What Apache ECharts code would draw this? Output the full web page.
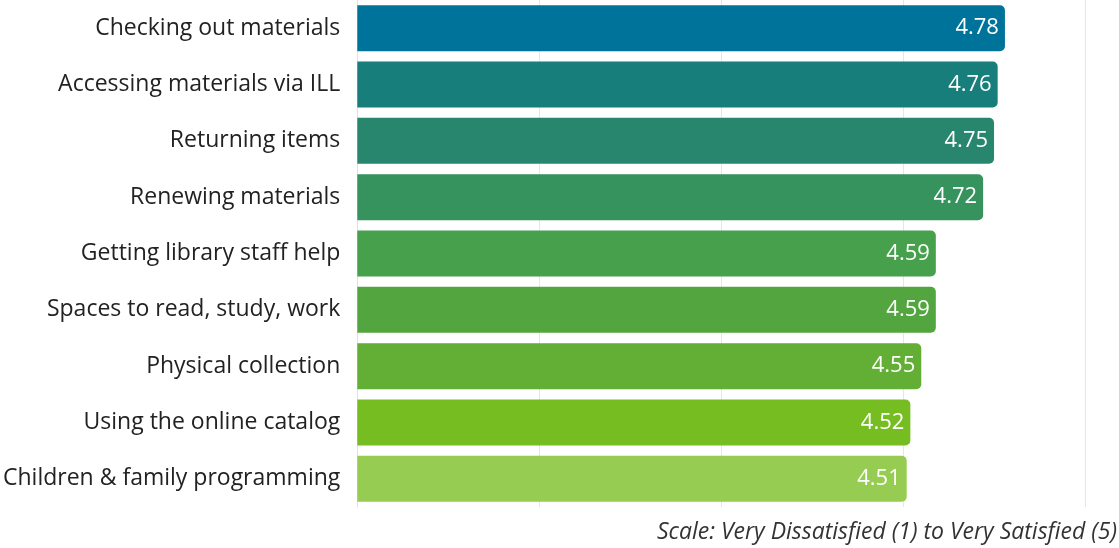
<!DOCTYPE html>
<html>
<head>
<meta charset="utf-8">
<script src="https://cdn.jsdelivr.net/npm/echarts@6/dist/echarts.min.js"></script>
<style>
  html, body { margin: 0; padding: 0; background: #fff; }
  #chart { width: 1119px; height: 548px; }
</style>
</head>
<body>
<div id="chart"></div>
<script>
const categories = [
  "Checking out materials",
  "Accessing materials via ILL",
  "Returning items",
  "Renewing materials",
  "Getting library staff help",
  "Spaces to read, study, work",
  "Physical collection",
  "Using the online catalog",
  "Children & family programming"
];
const scores = [4.78, 4.76, 4.75, 4.72, 4.59, 4.59, 4.55, 4.52, 4.51];
const barColors = [
  "#00739a", "#177e7b", "#28866f", "#36935e", "#46a04c",
  "#53a63f", "#63ae34", "#75bd20", "#97cc52"
];
const xTicks = { min: 3, max: 5, interval: 0.5 };
const footnote = "Scale: Very Dissatisfied (1) to Very Satisfied (5)";

const chart = echarts.init(document.getElementById("chart"));
chart.setOption({
  animation: false,
  textStyle: { fontFamily: "Open Sans" },
  grid: { top: -7, bottom: 41, left: 354, right: 34, containLabel: false },
  xAxis: {
    type: "value",
    min: xTicks.min,
    max: xTicks.max,
    interval: xTicks.interval,
    axisLabel: { show: false },
    axisLine: { show: false },
    axisTick: { show: false },
    splitLine: { lineStyle: { color: "#e6e6e6", width: 1 } }
  },
  yAxis: {
    type: "category",
    data: categories,
    inverse: true,
    axisTick: { show: false },
    axisLine: { show: true, lineStyle: { color: "#e0e0e0" } },
    axisLabel: { color: "#222", fontSize: 23, margin: 17, fontFamily: "Open Sans" }
  },
  series: [{
    type: "bar",
    barWidth: 46,
    data: scores.map((v, i) => ({ value: v, itemStyle: { color: barColors[i] } })),
    itemStyle: { borderRadius: [0, 5, 5, 0] },
    label: {
      show: true,
      position: "insideRight",
      distance: 6,
      color: "#fff",
      fontSize: 22,
      fontFamily: "Open Sans",
      formatter: (p) => p.value.toFixed(2)
    }
  }],
  graphic: [{
    type: "text",
    right: 2,
    top: 521,
    style: {
      text: footnote,
      fill: "#333",
      font: "italic 23px 'Open Sans'"
    }
  }]
});
</script>
</body>
</html>
